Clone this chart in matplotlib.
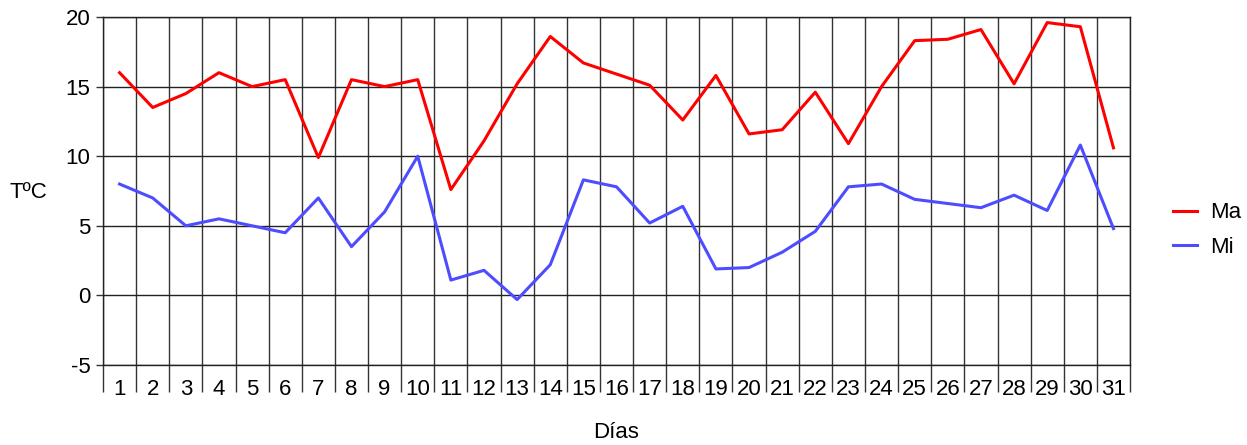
import matplotlib.pyplot as plt
import numpy as np

plt.rcParams['font.family'] = ['Liberation Sans', 'DejaVu Sans']
plt.rcParams['axes.unicode_minus'] = False

dias = list(range(1, 32))
ma = [16, 13.5, 14.5, 16, 15, 15.5, 9.9, 15.5, 15, 15.5,
      7.6, 11.1, 15.2, 18.6, 16.7, 15.9, 15.1, 12.6, 15.8, 11.6,
      11.9, 14.6, 10.9, 15, 18.3, 18.4, 19.1, 15.2, 19.6, 19.3, 10.6]
mi = [8, 7, 5, 5.5, 5, 4.5, 7, 3.5, 6, 10,
      1.1, 1.8, -0.3, 2.2, 8.3, 7.8, 5.2, 6.4, 1.9, 2.0,
      3.1, 4.6, 7.8, 8.0, 6.9, 6.6, 6.3, 7.2, 6.1, 10.8, 4.8]
yticks = [-5, 0, 5, 10, 15, 20]

fig = plt.figure(figsize=(12.47, 4.45), dpi=100)
ax = fig.add_axes([0.0826, 0.1798, 0.8236, 0.782])

ax.plot(dias, ma, color='#ff0000', lw=2.2, label='Ma')
ax.plot(dias, mi, color='#4d4dff', lw=2.2, label='Mi')

ax.set_xlim(0.5, 31.5)
ax.set_ylim(-5, 20)
ax.set_xticks(dias)
ax.set_xticklabels([str(d) for d in dias])
ax.set_xticks(np.arange(0.5, 32, 1), minor=True)
ax.set_yticks(yticks)
ax.tick_params(axis='x', which='major', length=0, pad=10, labelsize=16)
ax.tick_params(axis='x', which='minor', length=19.5, width=1, color='#333333', direction='out')
ax.tick_params(axis='y', length=5, width=1, color='#333333', pad=4, labelsize=16)

ax.grid(True, axis='x', which='minor', color='#333333', lw=1)
ax.grid(True, axis='y', which='major', color='#222222', lw=1)
ax.set_axisbelow(True)
for s in ax.spines.values():
    s.set_color('#222222')
    s.set_linewidth(1)

fig.text(10 / 1247, 1 - 192 / 445, 'TºC', fontsize=16, ha='left', va='center')
fig.text(616 / 1247, 1 - 432 / 445, 'Días', fontsize=16, ha='center', va='center')

fig.legend(loc='center left', bbox_to_anchor=(1173 / 1247, 1 - 230 / 445),
           frameon=False, fontsize=16, borderpad=0, borderaxespad=0,
           handlelength=1.1, handletextpad=0.55, labelspacing=0.6)

fig.savefig('out.png', dpi=100)
